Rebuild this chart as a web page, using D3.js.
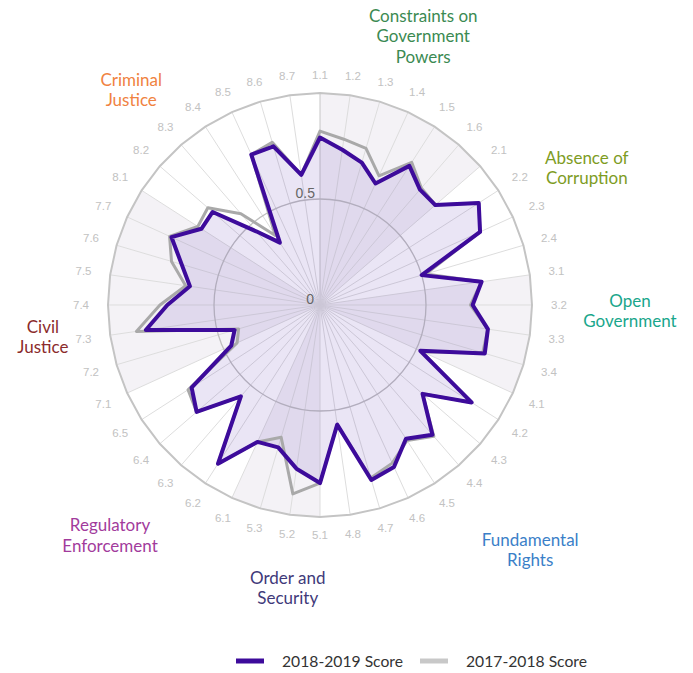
<!DOCTYPE html>
<html>
<head>
<meta charset="utf-8">
<script src="https://cdn.jsdelivr.net/npm/d3@7"></script>
<style>
    body { margin: 0; background: #fff; }
    svg { display: block; }
</style>
</head>
<body>
<script>
// Sub-factor categories, clockwise from the top
const categories = [
    "1.1", "1.2", "1.3", "1.4", "1.5", "1.6",
    "2.1", "2.2", "2.3", "2.4",
    "3.1", "3.2", "3.3", "3.4",
    "4.1", "4.2", "4.3", "4.4", "4.5", "4.6", "4.7", "4.8",
    "5.1", "5.2", "5.3",
    "6.1", "6.2", "6.3", "6.4", "6.5",
    "7.1", "7.2", "7.3", "7.4", "7.5", "7.6", "7.7",
    "8.1", "8.2", "8.3", "8.4", "8.5", "8.6", "8.7"
];

const score2019 = [
    0.79, 0.74, 0.70, 0.63, 0.78, 0.72,
    0.72, 0.89, 0.83, 0.50,
    0.77, 0.72, 0.80, 0.81,
    0.52, 0.85, 0.64, 0.81, 0.75, 0.84, 0.86, 0.57,
    0.84, 0.78, 0.70,
    0.71, 0.89, 0.57, 0.77, 0.72,
    0.46, 0.42, 0.83, 0.72, 0.62, 0.68, 0.77,
    0.665, 0.67, 0.46, 0.35, 0.78, 0.78, 0.62
];

const score2018 = [
    0.82, 0.79, 0.77, 0.67, 0.80, 0.73,
    0.72, 0.89, 0.83, 0.52,
    0.77, 0.71, 0.80, 0.80,
    0.53, 0.85, 0.64, 0.82, 0.76, 0.82, 0.85, 0.57,
    0.84, 0.90, 0.65,
    0.71, 0.89, 0.57, 0.77, 0.74,
    0.43, 0.40, 0.875, 0.755, 0.64, 0.73, 0.78,
    0.685, 0.70, 0.57, 0.39, 0.78, 0.80, 0.62
];

const pillarNames = [
    ["Constraints on", "Government", "Powers"],
    ["Absence of", "Corruption"],
    ["Open", "Government"],
    ["Fundamental", "Rights"],
    ["Order and", "Security"],
    ["Regulatory", "Enforcement"],
    ["Civil", "Justice"],
    ["Criminal", "Justice"]
];
const pillarColors = ["#3b8a52", "#7e9c1f", "#19a68b", "#3b7fc8", "#3f3a7a", "#a23b9c", "#8b2b2b", "#f08241"];

const yTicks = [0, 0.5];

const seriesNames = ["2018-2019 Score", "2017-2018 Score"];
const seriesColors = ["#3d0b9b", "#c8c8c8"];

// layout for the pillar titles (angle in degrees, distance from centre)
const titleAngle = [21, 62.8, 91.1, 139.4, 186.5, 222.3, 263.4, 318.7];
const titleRadius = [288, 300, 310, 323, 285, 312, 279, 286];

const width = 693, height = 673;
const cx = 320, cy = 305, R = 212;

const svg = d3.select("body").append("svg")
    .attr("width", width)
    .attr("height", height);

const g = svg.append("g")
    .attr("transform", "translate(" + cx + "," + cy + ")");

const angle = d3.scaleBand()
    .domain(categories)
    .range([0, 2 * Math.PI])
    .paddingInner(0)
    .align(0);

const r = d3.scaleLinear()
    .domain([0, 1])
    .range([0, R]);

const step = angle.step();
const pillarOf = c => c.split(".")[0];
const pillarIds = Array.from(new Set(categories.map(pillarOf)));

// alternate shaded bands, one per pillar
const bandLine = d3.lineRadial()
    .angle(d => d[0])
    .radius(d => d[1])
    .curve(d3.curveLinearClosed);

pillarIds.forEach((p, k) => {
    if (k % 2 !== 0) return;
    const first = categories.findIndex(c => pillarOf(c) === p);
    const next = k + 1 < pillarIds.length
        ? categories.findIndex(c => pillarOf(c) === pillarIds[k + 1])
        : categories.length;
    const pts = [[first * step, 0]];
    for (let i = first; i <= next; i++) pts.push([i * step, R]);
    g.append("path")
        .attr("d", bandLine(pts))
        .attr("fill", "#f4f2f6");
});

// spokes
g.selectAll(".spoke")
    .data(categories)
    .enter().append("line")
    .attr("class", "spoke")
    .attr("x1", 0).attr("y1", 0)
    .attr("x2", d => r(1) * Math.sin(angle(d)))
    .attr("y2", d => -r(1) * Math.cos(angle(d)))
    .attr("stroke", (d, i) => i === 0 ? "#c6c6c6" : "#dddddd")
    .attr("stroke-width", 1);

// inner grid circle
g.selectAll(".grid")
    .data(yTicks.filter(t => t > 0))
    .enter().append("circle")
    .attr("r", d => r(d))
    .attr("fill", "none")
    .attr("stroke", "#bfbfbf")
    .attr("stroke-width", 1.3);

// outer border
g.append("path")
    .attr("d", d3.lineRadial()
        .angle(d => angle(d))
        .radius(r(1))
        .curve(d3.curveLinearClosed)(categories))
    .attr("fill", "none")
    .attr("stroke", "#c4c4c4")
    .attr("stroke-width", 2);

// 2018-2019 filled area
const area = d3.areaRadial()
    .angle((d, i) => angle(categories[i]))
    .innerRadius(0)
    .outerRadius(d => r(d))
    .curve(d3.curveLinearClosed);

g.append("path")
    .attr("d", area(score2019))
    .attr("fill", "rgba(95, 55, 175, 0.13)");

const line = d3.lineRadial()
    .angle((d, i) => angle(categories[i]))
    .radius(d => r(d))
    .curve(d3.curveLinearClosed);

g.append("path")
    .attr("d", line(score2018))
    .attr("fill", "none")
    .attr("stroke", "#a9a9a9")
    .attr("stroke-width", 3)
    .attr("stroke-linejoin", "round");

g.append("path")
    .attr("d", line(score2019))
    .attr("fill", "none")
    .attr("stroke", seriesColors[0])
    .attr("stroke-width", 4)
    .attr("stroke-linejoin", "round");

// category labels
g.selectAll(".cat")
    .data(categories)
    .enter().append("text")
    .attr("class", "cat")
    .attr("x", d => (230 + 9 * Math.abs(Math.sin(angle(d)))) * Math.sin(angle(d)))
    .attr("y", d => -(230 + 9 * Math.abs(Math.sin(angle(d)))) * Math.cos(angle(d)))
    .attr("dy", "0.35em")
    .attr("text-anchor", "middle")
    .attr("font-family", "'Liberation Sans', Arial, sans-serif")
    .attr("font-size", 11.5)
    .attr("fill", "#c2c2c2")
    .text(d => d);

// y axis labels
g.selectAll(".ytick")
    .data(yTicks)
    .enter().append("text")
    .attr("x", d => d === 0 ? -6 : -5)
    .attr("y", d => -r(d) - 1)
    .attr("text-anchor", "end")
    .attr("font-family", "'Liberation Sans', Arial, sans-serif")
    .attr("font-size", 14)
    .attr("fill", "#666")
    .text(d => d);

// pillar titles
pillarNames.forEach((lines, k) => {
    const a = titleAngle[k] * Math.PI / 180;
    const x = titleRadius[k] * Math.sin(a);
    const y = -titleRadius[k] * Math.cos(a);
    const lh = 20.5;
    const t = g.append("text")
        .attr("text-anchor", "middle")
        .attr("font-family", "Lato, sans-serif")
        .attr("font-size", 17)
        .attr("fill", pillarColors[k]);
    lines.forEach((s, j) => {
        t.append("tspan")
            .attr("x", x)
            .attr("y", y + (j - (lines.length - 1) / 2) * lh)
            .attr("dy", "0.35em")
            .text(s);
    });
});

// legend
const legend = svg.append("g")
    .attr("transform", "translate(236,661)");
let lx = 0;
seriesNames.forEach((name, i) => {
    const item = legend.append("g").attr("transform", "translate(" + lx + ",0)");
    item.append("line")
        .attr("x1", 0).attr("x2", 28)
        .attr("y1", 0).attr("y2", 0)
        .attr("stroke", seriesColors[i])
        .attr("stroke-width", 5);
    const txt = item.append("text")
        .attr("x", 46)
        .attr("dy", "0.35em")
        .attr("font-family", "Lato, sans-serif")
        .attr("font-size", 15.7)
        .attr("fill", "#333")
        .text(name);
    lx += 46 + txt.node().getComputedTextLength() + 17;
});
</script>
</body>
</html>
